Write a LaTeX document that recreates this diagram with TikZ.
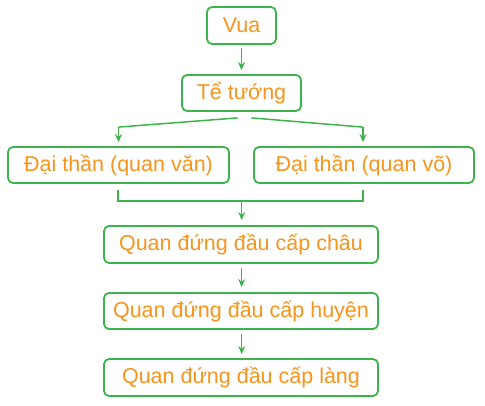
\documentclass[tikz,border=0pt]{standalone}
\usepackage{fontspec}
\setmainfont{Liberation Sans}
\usetikzlibrary{arrows.meta,calc}
\definecolor{boxgreen}{RGB}{60,180,75}
\definecolor{txtorange}{RGB}{247,148,29}
\begin{document}
\begin{tikzpicture}[x=1pt,y=-1pt,
  box/.style={draw=boxgreen,line width=1.8pt,rounded corners=5pt,text=txtorange,
    font=\fontsize{21.5}{24}\selectfont,inner sep=0pt,anchor=center},
  conn/.style={draw=boxgreen,line width=1.5pt},
  arr/.style={conn,-{Stealth[length=8pt,width=7pt]}}]
\useasboundingbox (0,0) rectangle (485,405);
\node[box,minimum width=69pt,minimum height=37pt] (vua) at (241.5,25.5) {Vua};
\node[box,minimum width=119pt,minimum height=36pt] (te) at (241.5,93) {Tể tướng};
\node[box,minimum width=221pt,minimum height=36pt] (van) at (118.5,165) {Đại thần (quan văn)};
\node[box,minimum width=220pt,minimum height=36pt] (vo) at (364,165) {Đại thần (quan võ)};
\node[box,minimum width=274pt,minimum height=37pt] (chau) at (241,244.5) {Quan đứng đầu cấp châu};
\node[box,minimum width=274pt,minimum height=36pt] (huyen) at (241,311) {Quan đứng đầu cấp huyện};
\node[box,minimum width=274pt,minimum height=37pt] (lang) at (241,377.5) {Quan đứng đầu cấp làng};
% Vua -> Te tuong
\draw[arr,shorten <=3pt,shorten >=4pt] (vua.south) -- (te.north);
% fork
\coordinate (tl) at ($(te.south)+(-4,6)$);
\coordinate (tr) at ($(te.south)+(10,6)$);
\coordinate (vanbend) at ($(van.north)+(0,-19)$);
\coordinate (vobend) at ($(vo.north)+(-1,-19)$);
\draw[conn] (tl) -- (vanbend);
\draw[arr,shorten >=4pt] (vanbend) -- (van.north);
\draw[conn] (tr) -- (vobend);
\draw[arr,shorten >=4pt] (vobend) -- ($(vo.north)+(-1,0)$);
% bracket
\coordinate (bl) at ($(van.south)+(-0.5,6)$);
\coordinate (br) at ($(vo.south)+(-1,6)$);
\coordinate (bjoin) at ($(chau.north)+(0.7,-24)$);
\draw[conn] (bl) -- (bl |- bjoin) -- (br |- bjoin) -- (br);
\draw[arr,shorten >=5pt] (bjoin) -- ($(chau.north)+(0.7,0)$);
% chain
\draw[arr,shorten <=4pt,shorten >=5pt] ($(chau.south)+(0.7,0)$) -- ($(huyen.north)+(0.7,0)$);
\draw[arr,shorten <=4pt,shorten >=4pt] ($(huyen.south)+(0.7,0)$) -- ($(lang.north)+(0.7,0)$);
\end{tikzpicture}
\end{document}
